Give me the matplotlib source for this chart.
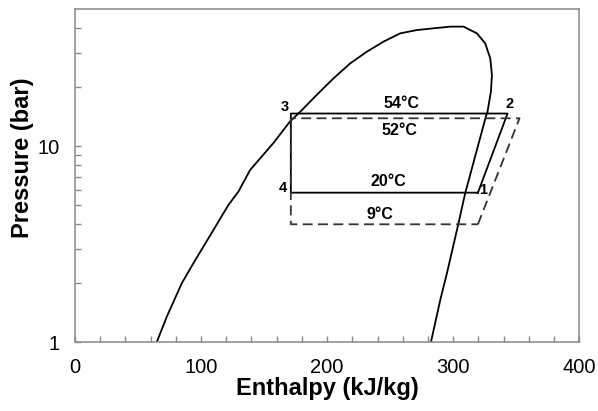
import numpy as np
import matplotlib.pyplot as plt
from matplotlib.ticker import MultipleLocator, FixedLocator, NullFormatter

plt.rcParams['font.family'] = ['Liberation Sans', 'DejaVu Sans']

# saturation dome, liquid side up over the top and down the vapour side
dome_h = [64.8, 72.8, 84.7, 93.9, 109.8, 121.7, 129.6, 138.9, 157.4, 170.6, 178.6,
          191.8, 205.0, 218.3, 231.5, 244.7, 257.9, 271.2, 284.4, 297.6, 308.2,
          318.8, 325.4, 329.4, 330.7, 329.9, 327.2, 326.2, 309.5, 304.2, 295.0,
          289.7, 282.3]
dome_p = [1.0, 1.35, 2.0, 2.53, 3.74, 5.02, 5.87, 7.57, 10.4, 13.4, 15.0,
          18.3, 22.2, 26.5, 30.4, 34.2, 37.7, 39.2, 40.0, 40.8, 40.8,
          37.7, 33.5, 28.1, 23.1, 19.0, 15.0, 14.4, 5.76, 4.05, 2.25,
          1.64, 1.0]

# cycle states 1-2-3-4 (54/20 degC solid, 52/9 degC dashed)
cyc_a_h = [319.6, 343.1, 171.2, 171.2, 319.6]
cyc_a_p = [5.8, 14.7, 14.7, 5.8, 5.8]
cyc_b_h = [319.6, 352.6, 171.2, 171.2, 319.6]
cyc_b_p = [4.0, 13.9, 13.9, 4.0, 4.0]

state_labels = ['1', '2', '3', '4']
state_h = [323.6, 344.7, 166.1, 164.5]
state_p = [6.0, 16.4, 15.8, 6.1]

temp_labels = ['54°C', '52°C', '20°C', '9°C']
temp_h = [259.3, 257.4, 248.2, 242.1]
temp_p = [16.6, 12.0, 6.6, 4.5]

fig = plt.figure(figsize=(5.98, 4.11), dpi=100)
ax = fig.add_axes([0.1254, 0.1672, 0.8433, 0.8101])

ax.plot(dome_h, dome_p, color='black', lw=1.3)
ax.plot(cyc_a_h, cyc_a_p, color='black', lw=1.3)
ax.plot(cyc_b_h, cyc_b_p, color='#333333', lw=1.3, dashes=(5.5, 3))

for s, h, p in zip(state_labels, state_h, state_p):
    ax.text(h, p, s, fontsize=10.5, fontweight='bold', ha='center', va='center')
for s, h, p in zip(temp_labels, temp_h, temp_p):
    ax.text(h, p, s, fontsize=11.5, fontweight='bold', ha='center', va='center')

ax.set_yscale('log')
ax.set_xlim(0, 400)
ax.set_ylim(1, 50)

ax.xaxis.set_major_locator(MultipleLocator(100))
ax.xaxis.set_minor_locator(MultipleLocator(20))
ax.yaxis.set_major_locator(FixedLocator([1, 10]))
ax.yaxis.set_major_formatter(plt.FuncFormatter(lambda v, pos: '%d' % v))
ax.yaxis.set_minor_locator(FixedLocator([2, 3, 4, 5, 6, 7, 8, 9, 20, 30, 40]))
ax.yaxis.set_minor_formatter(NullFormatter())

ax.tick_params(which='both', direction='in', length=4, width=1, color='#888888',
               top=False, right=False)
ax.tick_params(which='major', labelsize=14.5, pad=11)

for sp in ax.spines.values():
    sp.set_color('#888888')
    sp.set_linewidth(1.1)

# axis titles placed in figure pixels
fig.text(327 / 598, 1 - 395 / 411, 'Enthalpy (kJ/kg)', fontsize=17,
         fontweight='bold', ha='center', va='baseline')
fig.text(23 / 598, 1 - 158 / 411, 'Pressure (bar)', fontsize=17,
         fontweight='bold', ha='center', va='center', rotation=90)

plt.savefig('out.png', dpi=100)
